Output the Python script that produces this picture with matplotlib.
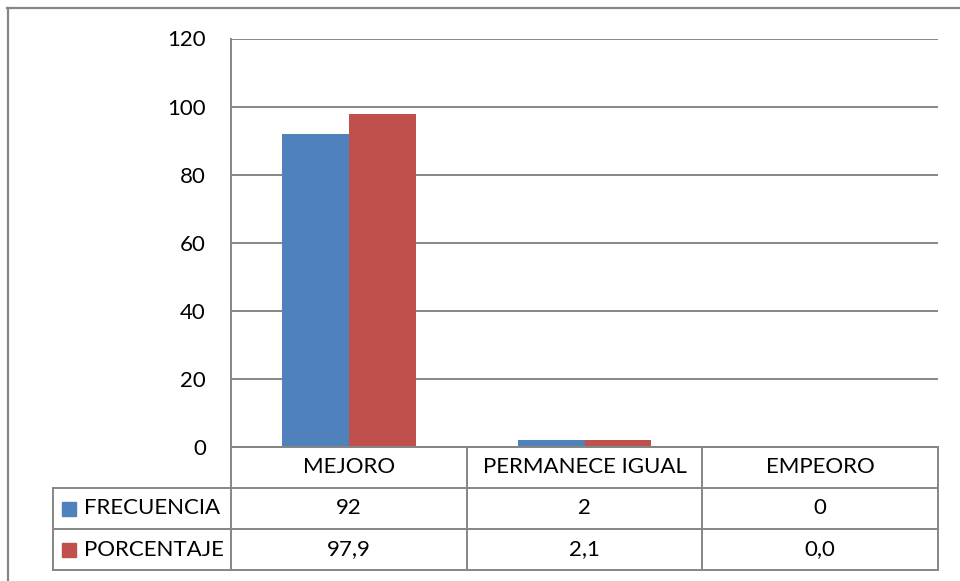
import matplotlib.pyplot as plt
import matplotlib.transforms as mtransforms
from matplotlib.lines import Line2D
from matplotlib.patches import Rectangle

categorias = ['MEJORO', 'PERMANECE IGUAL', 'EMPEORO']
frecuencia = [92, 2, 0]
porcentaje = [97.9, 2.1, 0.0]
etiquetas_frec = ['92', '2', '0']
etiquetas_porc = ['97,9', '2,1', '0,0']
series = ['FRECUENCIA', 'PORCENTAJE']

AZUL = '#4F81BD'
ROJO = '#C0504D'
GRIS = '#868686'

plt.rcParams['font.family'] = ['Lato', 'DejaVu Sans']

W, H = 960, 581
fig = plt.figure(figsize=(W / 100, H / 100), dpi=100)


def fy(y):
    return 1 - y / H


# area del grafico (pixeles)
x0, x1 = 231, 938
y_top, y_cero = 38.5, 446.7
ax = fig.add_axes([x0 / W, fy(y_cero), (x1 - x0) / W, (y_cero - y_top) / H])

ancho = 0.284
pos = range(len(categorias))
ax.bar([p - ancho / 2 for p in pos], frecuencia, ancho, color=AZUL, zorder=3)
ax.bar([p + ancho / 2 for p in pos], porcentaje, ancho, color=ROJO, zorder=3)

ax.set_xlim(-0.5, len(categorias) - 0.5)
ax.set_ylim(0, 120)
ax.set_yticks(range(0, 121, 20))
ax.set_xticks([])
ax.yaxis.grid(True, color=GRIS, linewidth=1.4)
ax.set_axisbelow(True)
for lado in ['top', 'right']:
    ax.spines[lado].set_visible(False)
ax.spines['left'].set_color(GRIS)
ax.spines['left'].set_linewidth(1.4)
ax.spines['bottom'].set_color(GRIS)
ax.spines['bottom'].set_linewidth(1.4)
ax.tick_params(axis='y', length=0, pad=18, labelsize=16)

# tabla de datos debajo del eje
tr = mtransforms.blended_transform_factory(ax.transData, fig.transFigure)
filas = [y_cero, 488, 529, 570]
lw = 1.4


def linea(xs, ys, transform):
    fig.add_artist(Line2D(xs, ys, color=GRIS, linewidth=lw, transform=transform))


# lineas horizontales
n = len(categorias)
linea([-0.5, n - 0.5], [fy(filas[0])] * 2, tr)
for y in filas[1:]:
    linea([53 / W, x1 / W], [fy(y)] * 2, fig.transFigure)
# lineas verticales
for b in range(n + 1):
    linea([b - 0.5, b - 0.5], [fy(filas[0]), fy(filas[-1])], tr)
linea([53 / W, 53 / W], [fy(filas[1]), fy(filas[-1])], fig.transFigure)

for i, cat in enumerate(categorias):
    fig.text(i, fy((filas[0] + filas[1]) / 2), cat, transform=tr,
             ha='center', va='center', fontsize=16)
    fig.text(i, fy((filas[1] + filas[2]) / 2), etiquetas_frec[i], transform=tr,
             ha='center', va='center', fontsize=16)
    fig.text(i, fy((filas[2] + filas[3]) / 2), etiquetas_porc[i], transform=tr,
             ha='center', va='center', fontsize=16)

for k, (nombre, color) in enumerate(zip(series, [AZUL, ROJO])):
    yc = (filas[k + 1] + filas[k + 2]) / 2
    fig.add_artist(Rectangle((62 / W, fy(yc + 7)), 14 / W, 14 / H,
                             color=color, transform=fig.transFigure))
    fig.text(84 / W, fy(yc), nombre, ha='left', va='center', fontsize=16)

# borde exterior
fig.add_artist(Line2D([7 / W, 1], [fy(7.5)] * 2, color=GRIS, linewidth=1.6,
                      transform=fig.transFigure))
fig.add_artist(Line2D([7.5 / W] * 2, [0, fy(7.5)], color=GRIS, linewidth=1.6,
                      transform=fig.transFigure))

fig.savefig('out.png', dpi=100)
